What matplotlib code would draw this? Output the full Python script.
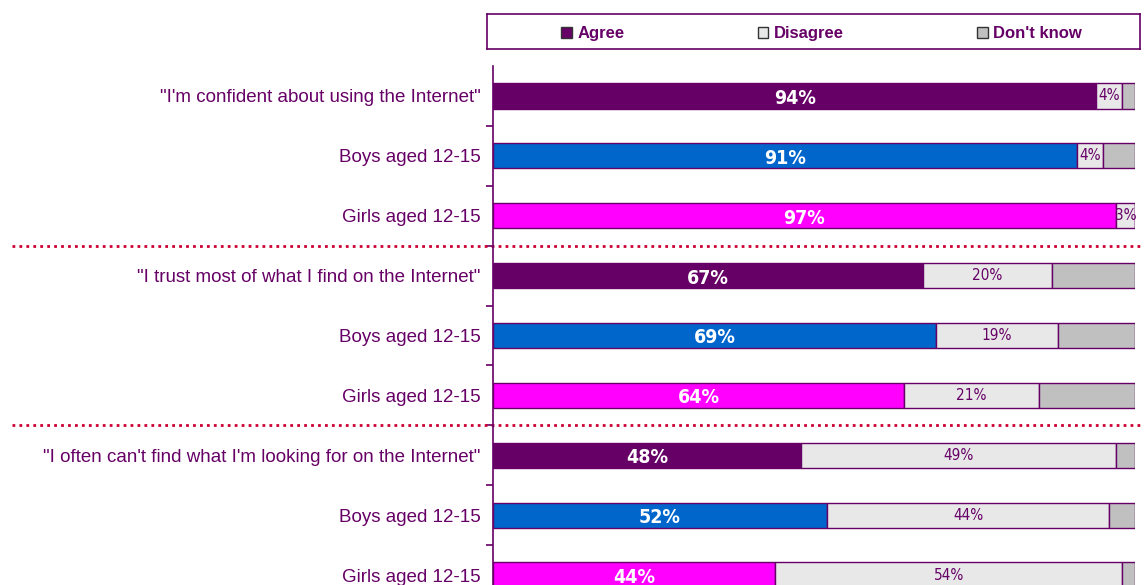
import matplotlib
matplotlib.use("Agg")
import matplotlib.pyplot as plt
from matplotlib import font_manager
from matplotlib.font_manager import FontProperties
from matplotlib.patches import Patch
import matplotlib.transforms as mtransforms

categories = ['"I\'m confident about using the Internet"', 'Boys aged 12-15', 'Girls aged 12-15',
              '"I trust most of what I find on the Internet"', 'Boys aged 12-15', 'Girls aged 12-15',
              '"I often can\'t find what I\'m looking for on the Internet"', 'Boys aged 12-15', 'Girls aged 12-15']
agree = [94, 91, 97, 67, 69, 64, 48, 52, 44]
disagree = [4, 4, 3, 20, 19, 21, 49, 44, 54]
dont_know = [2, 5, 0, 13, 12, 15, 3, 4, 2]
series_names = ["Agree", "Disagree", "Don't know"]
group_breaks = [2.5, 5.5]

PURPLE = "#660066"
agree_colors = [PURPLE, "#0066CC", "#FF00FF"] * 3
DIS_COL = "#E8E8E8"
DK_COL = "#C0C0C0"
SEP_COL = "#CC0033"

ttf = font_manager.fontManager.ttflist
names = {f.name for f in ttf}
REG = "Liberation Sans" if "Liberation Sans" in names else "DejaVu Sans"


def wnum(w):
    try:
        return int(w)
    except (TypeError, ValueError):
        return {"bold": 700, "normal": 400, "regular": 400}.get(str(w), 400)


def pick_condensed(target_w):
    best = None
    for f in ttf:
        tag = f.name + " " + f.fname
        if ("Narrow" in tag or "Condensed" in tag) and not any(
                k in tag for k in ("Extra", "Ultra", "Semi", "Mono", "Serif")) and f.style == "normal":
            d = abs(wnum(f.weight) - target_w)
            if best is None or d < best[0]:
                best = (d, f)
    if best is not None and best[0] <= 100:
        return FontProperties(fname=best[1].fname)
    return None


bold_fp = pick_condensed(700)
reg_fp = pick_condensed(400)
if bold_fp is None:
    bold_fp = FontProperties(family=REG, weight="bold")
    bold_size = 13
else:
    bold_size = 14
if reg_fp is None:
    reg_fp = FontProperties(family=REG)
    reg_size = 10
else:
    reg_size = 11

W, H = 1144, 585
fig = plt.figure(figsize=(W / 100, H / 100), dpi=100)
ax = fig.add_axes([493 / W, (H - 605) / H, 642 / W, 539 / H])

ypos = list(range(len(categories)))
bh = 0.42
ax.barh(ypos, agree, height=bh, color=agree_colors, edgecolor=PURPLE, linewidth=1)
left2 = agree
ax.barh(ypos, disagree, left=left2, height=bh, color=DIS_COL, edgecolor=PURPLE, linewidth=1)
left3 = [a + d for a, d in zip(agree, disagree)]
ax.barh(ypos, dont_know, left=left3, height=bh, color=DK_COL, edgecolor=PURPLE, linewidth=1)

for i in ypos:
    ax.text(agree[i] / 2, i + 0.04, f"{agree[i]}%", ha="center", va="center", color="white",
            fontproperties=bold_fp, fontsize=bold_size)
    ax.text(agree[i] + disagree[i] / 2, i, f"{disagree[i]}%", ha="center", va="center",
            color=PURPLE, fontproperties=reg_fp, fontsize=reg_size)

ax.set_xlim(0, 100)
ax.set_ylim(len(categories) - 0.5, -0.5)
ax.set_yticks(ypos)
ax.set_yticklabels(categories, fontsize=13.5, color=PURPLE, family=REG)
ax.tick_params(axis="y", which="major", length=0, pad=9)
ax.set_yticks([i + 0.5 for i in ypos[:-1]], minor=True)
ax.tick_params(axis="y", which="minor", length=5, color=PURPLE, width=1.2, direction="out")
ax.set_xticks([])
for s in ["top", "right", "bottom"]:
    ax.spines[s].set_visible(False)
ax.spines["left"].set_color(PURPLE)
ax.spines["left"].set_linewidth(1.2)

trans = mtransforms.blended_transform_factory(ax.transAxes, ax.transData)
x0 = (12 - 493) / 642
x1 = (1144 - 493) / 642
for yb in group_breaks:
    ax.plot([x0, x1], [yb, yb], transform=trans, clip_on=False, color=SEP_COL,
            linestyle=(0, (1, 1.5)), linewidth=2)

# legend box
lax = fig.add_axes([487 / W, (H - 49) / H, (1140 - 487) / W, 35 / H])
lax.set_xticks([]); lax.set_yticks([])
for s in lax.spines.values():
    s.set_color(PURPLE); s.set_linewidth(1.2)
handles = [Patch(facecolor=PURPLE, edgecolor="#333333", label=series_names[0]),
           Patch(facecolor=DIS_COL, edgecolor="#333333", label=series_names[1]),
           Patch(facecolor=DK_COL, edgecolor="#333333", label=series_names[2])]
leg = lax.legend(handles=handles, loc="center", bbox_to_anchor=(0.512, 0.44), ncol=3,
                 frameon=False, handlelength=0.65, handleheight=0.65, handletextpad=0.3,
                 columnspacing=8.0, prop={"family": REG, "weight": "bold", "size": 12})
for t in leg.get_texts():
    t.set_color(PURPLE)

fig.savefig("out.png", dpi=100)
